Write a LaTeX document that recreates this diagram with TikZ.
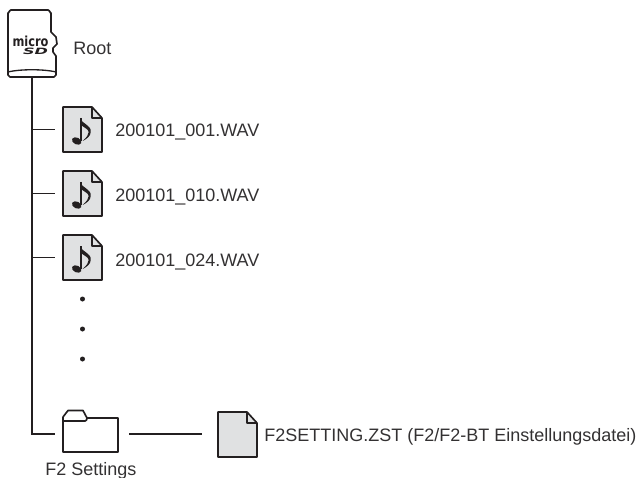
\documentclass[tikz,border=0pt]{standalone}
\usepackage{fontspec}
\setmainfont{Liberation Sans}
\newfontfamily\logofont{DejaVu Sans}
\definecolor{inkc}{HTML}{231F20}
\definecolor{textc}{HTML}{333132}
\definecolor{fillc}{HTML}{E0E1E2}
\tikzset{
  x=0.75pt,y=-0.75pt,
  conn/.style={draw=inkc,line width=1.2pt},
  lab/.style={anchor=base west,inner sep=0pt,text=textc,font=\fontsize{13.5}{16}\selectfont},
  icon/.style={draw=inkc,line width=1.25pt,line join=round},
  filebox/.pic={
    \path[icon,fill=fillc] (0,0)--(29,0)--(39,11)--(39,45)--(0,45)--cycle;
    \path[icon] (29,0)--(29,11)--(39,11);
  },
  notepic/.pic={
    \draw[inkc,line width=1.2pt] (0,0)--(0,23);
    \fill[inkc] (-0.7,0) .. controls (1,6) and (11,7) .. (10,14) .. controls (10,18) and (6,21) .. (2,23) .. controls (6,19) and (8,17) .. (8,14) .. controls (8,11) and (2,9) .. (-0.7,6)--cycle;
    \fill[inkc,rotate around={-25:(-4,23)}] (-4,23) ellipse (5 and 3.4);
  }
}
\begin{document}
\begin{tikzpicture}
\useasboundingbox (0,0) rectangle (640,478);
% card
\path[icon] (8,13) to[out=-90,in=180] (11,10)--(48,10) to[out=0,in=-90] (51,13)--(51,32)--(56,37)--(57,44)--(53,48)--(53,52)--(56,56)--(56,75) to[out=90,in=0] (54,77)--(10,77) to[out=180,in=90] (8,75)--cycle;
\draw[icon,line width=1pt] (8,72) .. controls (20,69) and (44,69) .. (56,72);
\node[inner sep=0pt,text=inkc,xscale=.95,yscale=1.15,transform shape,font=\logofont\fontsize{9}{9}\selectfont\bfseries,anchor=base] (mic) at (30.5,47) {micro};
\node[inner sep=0pt,text=inkc,xscale=1.85,transform shape,font=\logofont\fontsize{6.5}{6.5}\selectfont\bfseries\itshape,anchor=base] (sdl) at (35.5,54.5) {SD};
\coordinate (cardb) at (32,77);
\node[lab] (root) at (73,55) {Root};
% spine
\coordinate (sp1) at (32,129.5);
\coordinate (sp2) at (32,193.5);
\coordinate (sp3) at (32,257.5);
\coordinate (sp4) at (32,434);
\coordinate (e4) at (55,434);
\draw[conn,line join=miter] (cardb)--(sp4)--(e4);
\coordinate (e1) at (55,129.5);\coordinate (e2) at (55,193.5);\coordinate (e3) at (55,257.5);
\draw[conn] (sp1)--(e1);\draw[conn] (sp2)--(e2);\draw[conn] (sp3)--(e3);
% files
\foreach \y/\b/\t in {107/136.5/200101\_001.WAV,171/201.5/200101\_010.WAV,235/266.5/200101\_024.WAV}{
  \pic at (63,\y) {filebox};
  \pic at (80.7,\y+11) {notepic};
  \node[lab] at (115,\b) {\t};
}
\foreach \y in {299,329,359}{\fill[inkc] (82.5,\y) circle (2.5);}
% folder
\path[icon] (63,452)--(63,417)--(68,410.5)--(83,410.5)--(87,418)--(118,418)--(118,452)--cycle;
\draw[icon] (63,421)--(85,421) to[out=0,in=-90] (87,418);
\node[lab] (fs) at (45,475) {F2 Settings};
\coordinate (fa) at (129,434);\coordinate (fb) at (202,434);
\draw[conn] (fa)--(fb);
\pic at (218,412) {filebox};
\node[lab] (zst) at (264,441.7) {F2SETTING.ZST (F2/F2-BT Einstellungsdatei)};
\end{tikzpicture}
\end{document}
